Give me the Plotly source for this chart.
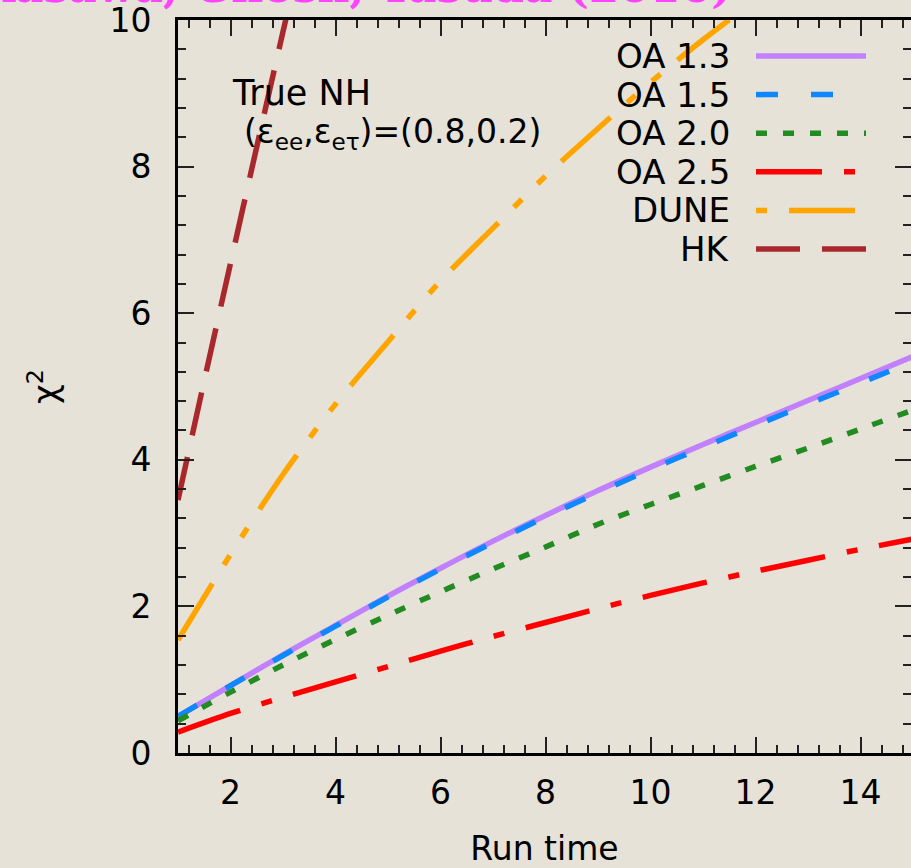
import plotly.graph_objects as go

# ---------------- data ----------------
run_time = [1, 2, 3, 4, 5, 6, 7, 8, 9, 10, 11, 12, 13, 14, 15]
oa13 = [0.50, 0.92, 1.34, 1.74, 2.14, 2.52, 2.89, 3.24, 3.58, 3.90, 4.21, 4.51, 4.81, 5.11, 5.41]
oa15 = [0.50, 0.92, 1.33, 1.73, 2.13, 2.51, 2.87, 3.22, 3.55, 3.87, 4.17, 4.47, 4.76, 5.05, 5.34]
oa20 = [0.44, 0.83, 1.20, 1.55, 1.88, 2.20, 2.51, 2.81, 3.12, 3.39, 3.65, 3.91, 4.16, 4.42, 4.68]
oa25 = [0.285, 0.54, 0.76, 0.97, 1.18, 1.39, 1.59, 1.78, 1.97, 2.15, 2.32, 2.48, 2.63, 2.78, 2.92]
dune_time = [1, 2, 3, 4, 5, 6, 7, 8, 9, 10, 11, 12]
dune = [1.54, 2.71, 3.80, 4.76, 5.61, 6.44, 7.16, 7.87, 8.52, 9.15, 9.73, 10.27]
hk_time = [1, 1.5, 2, 2.5, 3, 3.5]
hk = [3.45, 5.08, 6.68, 8.27, 9.84, 11.40]

x_ticks = [2, 4, 6, 8, 10, 12, 14]
y_ticks = [0, 2, 4, 6, 8, 10]

series = [
    ("OA 1.3", run_time, oa13, "#c080ff", "solid"),
    ("OA 1.5", run_time, oa15, "#0f87ff", "22px,33px"),
    ("OA 2.0", run_time, oa20, "#228b22", "11px,16px"),
    ("OA 2.5", run_time, oa25, "#ff0000", "66px,22px,11px,22px"),
    ("DUNE", dune_time, dune, "#ffa500", "66px,22px,11px,22px,11px,22px"),
    ("HK", hk_time, hk, "#a8282c", "44px,22px"),
]
legend_dash = {"DUNE": "11px,22px,66px,22px"}

# ---------------- layout geometry ----------------
W, H = 911, 868
L, R, T, B = 178, 0, 20, 115
PW, PH = W - L - R, H - T - B
PX_PER_X = 52.5
x_max = 1 + PW / PX_PER_X

def pxx(px):
    return (px - L) / PW

def pxy(py):
    return (H - B - py) / PH

FONT = "DejaVu Sans, Verdana, sans-serif"
BG = "#e6e2d7"
FS = 33

fig = go.Figure()
for name, xs, ys, color, dash in series:
    fig.add_trace(go.Scatter(x=xs, y=ys, mode="lines", name=name,
                             line=dict(color=color, width=5.5, dash=dash,
                                       shape="spline", smoothing=0.8),
                             showlegend=False, hoverinfo="skip"))
# invisible trace to carry the right-hand mirrored tick axis
fig.add_trace(go.Scatter(x=[None], y=[None], yaxis="y2", showlegend=False))

# manual legend: text on the left, sample on the right
row0, row_step = 56, 38.6
for i, (name, xs, ys, color, dash) in enumerate(series):
    yy = pxy(row0 + i * row_step)
    fig.add_annotation(x=pxx(732), y=yy, xref="paper", yref="paper",
                       text=name, showarrow=False, xanchor="right", yanchor="middle",
                       font=dict(family=FONT, size=34, color="black"))
    fig.add_shape(type="line", xref="paper", yref="paper",
                  x0=pxx(756), x1=pxx(866), y0=yy, y1=yy,
                  line=dict(color=color, width=5.5, dash=legend_dash.get(name, dash)))

# inset labels
fig.add_annotation(x=pxx(230), y=pxy(93), xref="paper", yref="paper",
                   text="True NH", showarrow=False, xanchor="left", yanchor="middle",
                   font=dict(family=FONT, size=35, color="black"))
fig.add_annotation(x=pxx(242), y=pxy(133), xref="paper", yref="paper",
                   text="(ε<sub>ee</sub>,ε<sub>eτ</sub>)=(0.8,0.2)", showarrow=False,
                   xanchor="left", yanchor="middle",
                   font=dict(family=FONT, size=FS, color="black"))

# background slide header (cut off at the top)
fig.add_annotation(x=pxx(734), y=pxy(-14), xref="paper", yref="paper",
                   text="<b>Fukasawa, Ghosh, Yasuda (2016)</b>", showarrow=False,
                   xanchor="right", yanchor="middle",
                   font=dict(family="DejaVu Serif, serif", size=44, color="#ff44ff"))

axis_common = dict(
    showline=True, linecolor="black", linewidth=3,
    ticks="inside", ticklen=16, tickwidth=2, tickcolor="#222",
    showgrid=False, zeroline=False,
    tickfont=dict(family=FONT, size=FS, color="black"),
)

fig.update_layout(
    width=W, height=H,
    margin=dict(l=L, r=R, t=T, b=B),
    paper_bgcolor=BG, plot_bgcolor=BG,
    xaxis=dict(range=[1, x_max], tickmode="array", tickvals=x_ticks,
               mirror="ticks", ticklabelstandoff=8,
               minor=dict(dtick=0.4, tick0=0, ticks="inside", ticklen=8,
                          tickwidth=2, tickcolor="#222"),
               title=dict(text="Run time", standoff=28,
                          font=dict(family=FONT, size=FS, color="black")),
               **axis_common),
    yaxis=dict(range=[0, 10], tickmode="array", tickvals=y_ticks,
               ticklabelstandoff=17,
               minor=dict(dtick=0.4, tick0=0, ticks="inside", ticklen=8,
                          tickwidth=2, tickcolor="#222"),
               title=dict(text="χ<sup>2</sup>", standoff=42,
                          font=dict(family=FONT, size=34, color="black")),
               **axis_common),
    yaxis2=dict(range=[0, 10], overlaying="y", side="right", anchor="x",
                showline=False, showgrid=False, zeroline=False,
                tickmode="array", tickvals=y_ticks, showticklabels=False,
                ticks="inside", ticklen=16, tickwidth=2, tickcolor="#222",
                minor=dict(dtick=0.4, tick0=0, ticks="inside", ticklen=8,
                           tickwidth=2, tickcolor="#222")),
)

page_fix = ("document.body.style.margin='0px';"
            "document.body.style.overflow='hidden';"
            "document.body.style.background='" + BG + "';")
fig.write_html("out.html", post_script=page_fix,
               config={"displayModeBar": False, "staticPlot": True})
